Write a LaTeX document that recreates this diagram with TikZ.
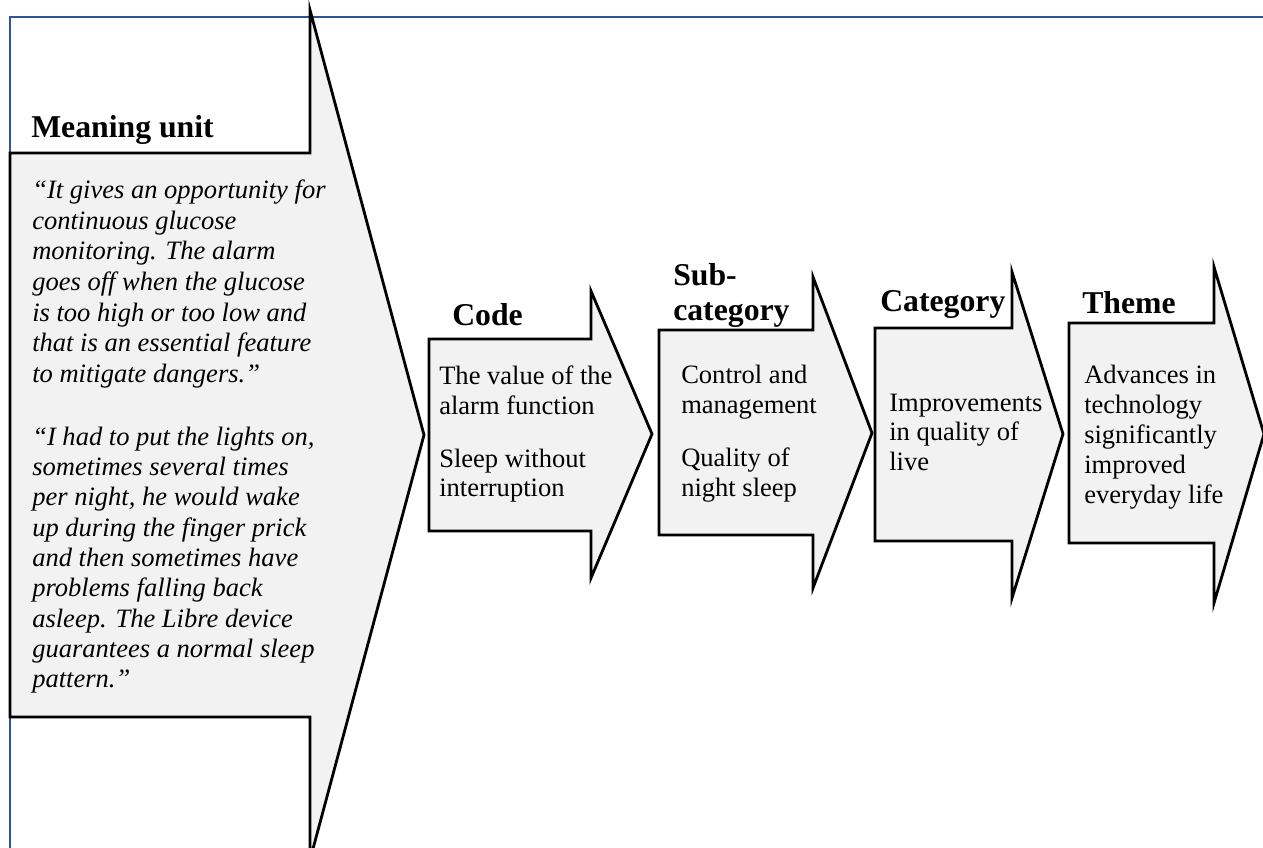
\documentclass[tikz,border=0pt]{standalone}
\usepackage{fontspec}
\setmainfont{Liberation Serif}
\definecolor{frameblue}{RGB}{47,85,151}
\definecolor{arrowfill}{RGB}{242,242,242}
\begin{document}
\begin{tikzpicture}[x=0.75pt,y=-0.75pt,
  arrowbox/.style={draw=black, line width=2.1pt, fill=arrowfill, line join=miter},
  frameline/.style={draw=frameblue, line width=2.1pt},
  hd/.style={anchor=base west, inner sep=0pt, font=\fontsize{23.8pt}{26pt}\selectfont\bfseries},
  tx/.style={anchor=base west, inner sep=0pt, font=\fontsize{19.9pt}{22.5pt}\selectfont},
  itx/.style={anchor=base west, inner sep=0pt, font=\fontsize{19.9pt}{22.5pt}\selectfont\itshape}]
\useasboundingbox (0,0) rectangle (1263,847);
\clip (0,0) rectangle (1263,847);
% frame
\draw[frameline] (1275,17) -- (10,17) -- (10,860);
% arrows
\draw[arrowbox] (10,153) -- (310,153) -- (310,10) -- (424,435) -- (310,860) -- (310,717) -- (10,717) -- cycle;
\draw[arrowbox] (429,339) -- (591,339) -- (591,291) -- (652,434) -- (591,578) -- (591,531) -- (429,531) -- cycle;
\draw[arrowbox] (659,330) -- (813,330) -- (813,277) -- (872,433) -- (813,588) -- (813,535) -- (659,535) -- cycle;
\draw[arrowbox] (875,328) -- (1012,328) -- (1012,272) -- (1063,434) -- (1012,598) -- (1012,541) -- (875,541) -- cycle;
\draw[arrowbox] (1069,323) -- (1214,323) -- (1214,267) -- (1264,434) -- (1214,603) -- (1214,543) -- (1069,543) -- cycle;
% meaning unit
\node[hd] (hmu) at (31,137) {Meaning unit};
\node[itx] (m1) at (32,198) {“It gives an opportunity for};
\node[itx] (m2) at (32,229) {continuous glucose};
\node[itx] (m3) at (32,259) {monitoring. The alarm};
\node[itx] (m4) at (32,290) {goes off when the glucose};
\node[itx] (m5) at (32,321) {is too high or too low and};
\node[itx] (m6) at (32,351) {that is an essential feature};
\node[itx] (m7) at (32,382) {to mitigate dangers.”};
\node[itx] (n1) at (32,445) {“I had to put the lights on,};
\node[itx] (n2) at (32,475) {sometimes several times};
\node[itx] (n3) at (32,505) {per night, he would wake};
\node[itx] (n4) at (32,536) {up during the finger prick};
\node[itx] (n5) at (32,566) {and then sometimes have};
\node[itx] (n6) at (32,596) {problems falling back};
\node[itx] (n7) at (32,627) {asleep. The Libre device};
\node[itx] (n8) at (32,657) {guarantees a normal sleep};
\node[itx] (n9) at (32,687) {pattern.”};
% code
\node[hd] (hcode) at (452,325) {Code};
\node[tx] (c1) at (439,384) {The value of the};
\node[tx] (c2) at (439,414) {alarm function};
\node[tx] (c3) at (439,467) {Sleep without};
\node[tx] (c4) at (439,496) {interruption};
% sub-category
\node[hd] (hsub1) at (673,285) {Sub-};
\node[hd] (hsub2) at (673,320) {category};
\node[tx] (s1) at (681,383) {Control and};
\node[tx] (s2) at (681,413) {management};
\node[tx] (s3) at (681,466) {Quality of};
\node[tx] (s4) at (681,496) {night sleep};
% category
\node[hd] (hcat) at (880,311) {Category};
\node[tx] (k1) at (889,411) {Improvements};
\node[tx] (k2) at (889,440) {in quality of};
\node[tx] (k3) at (889,470) {live};
% theme
\node[hd] (hth) at (1082,313) {Theme};
\node[tx] (t1) at (1084,383) {Advances in};
\node[tx] (t2) at (1084,413) {technology};
\node[tx] (t3) at (1084,443) {significantly};
\node[tx] (t4) at (1084,473) {improved};
\node[tx] (t5) at (1084,503) {everyday life};
\end{tikzpicture}
\end{document}
